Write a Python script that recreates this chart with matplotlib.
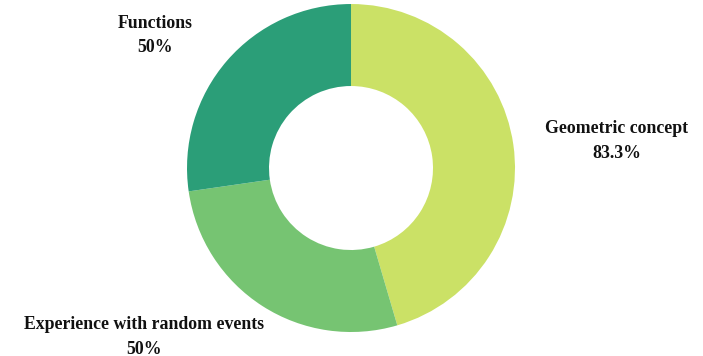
import matplotlib.pyplot as plt

# share of students per topic (percent)
topics = ["Geometric concept", "Experience with random events", "Functions"]
values = [83.3, 50, 50]
colors = ["#cbe166", "#76c472", "#2b9e78"]

# label anchors in data units (pie radius = 1)
label_x = [1.62, -1.265, -1.195]
label_y = [0.165, -1.03, 0.81]

plt.rcParams['font.family'] = ['Liberation Serif', 'DejaVu Serif']

fig = plt.figure(figsize=(7.03, 3.56), dpi=100)
ax = fig.add_axes([0.266, 0.0674, 0.4666, 0.9213])

ax.pie(values, colors=colors, startangle=90, counterclock=False,
       radius=1.0, wedgeprops=dict(width=0.5, edgecolor='none'))

for name, v, x, y in zip(topics, values, label_x, label_y):
    ax.text(x, y, f"{name}\n{v:g}%", ha='center', va='center',
            fontsize=12.8, fontweight='bold', linespacing=1.55,
            color='#111111', clip_on=False)

ax.set_xlim(-1, 1)
ax.set_ylim(-1, 1)
ax.set_aspect('equal')
ax.axis('off')

fig.savefig("out.png", dpi=100)
